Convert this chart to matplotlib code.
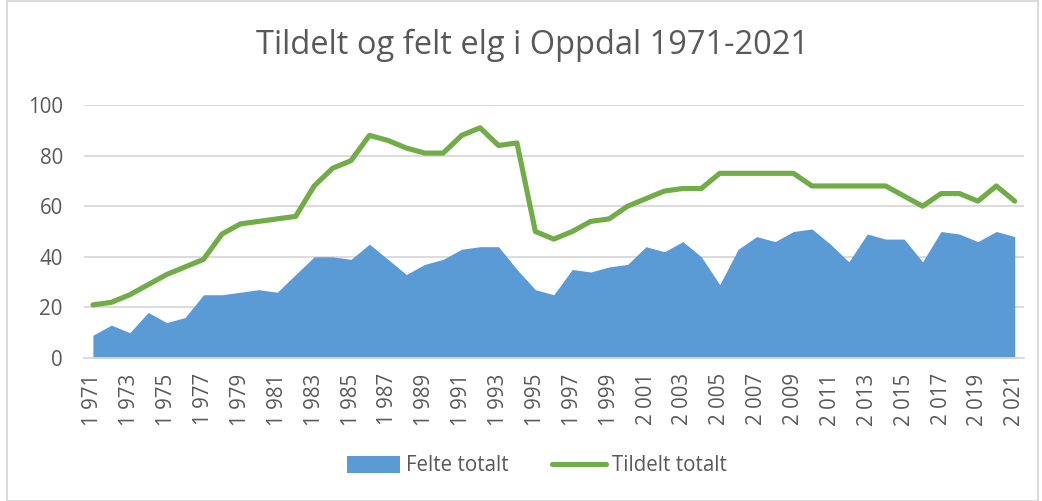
import matplotlib
matplotlib.use("Agg")
import matplotlib.pyplot as plt
from matplotlib.patches import Patch, Rectangle
from matplotlib.lines import Line2D

years = list(range(1971, 2022))
felte = [9, 13, 10, 18, 14, 16, 25, 25, 26, 27, 26, 33, 40, 40, 39, 45,
         39, 33, 37, 39, 43, 44, 44, 35, 27, 25, 35, 34, 36, 37, 44, 42,
         46, 40, 29, 43, 48, 46, 50, 51, 45, 38, 49, 47, 47, 38, 50, 49,
         46, 50, 48]
tildelt = [21, 22, 25, 29, 33, 36, 39, 49, 53, 54, 55, 56, 68, 75, 78, 88,
           86, 83, 81, 81, 88, 91, 84, 85, 50, 47, 50, 54, 55, 60, 63, 66,
           67, 67, 73, 73, 73, 73, 73, 68, 68, 68, 68, 68, 64, 60, 65, 65,
           62, 68, 62]
title = "Tildelt og felt elg i Oppdal 1971-2021"
yticks = [0, 20, 40, 60, 80, 100]

def fmt_year(y):
    s = str(y)
    return s[0] + "\u00a0" + s[1:]

TXT = "#595959"
GRID = "#d9d9d9"
BLUE = "#5B9BD5"
GREEN = "#70AD47"
FONT = ["Open Sans", "DejaVu Sans"]
FS = 14.8

fig = plt.figure(figsize=(10.42, 5.01), dpi=100)
ax = fig.add_axes([0.0803, 0.2854, 0.9024, 0.5050])

x = list(range(len(years)))
ax.fill_between(x, felte, 0, color=BLUE, linewidth=0, zorder=2)
ax.plot(x, tildelt, color=GREEN, linewidth=3.7, solid_joinstyle="round",
        solid_capstyle="round", zorder=3)

ax.set_xlim(-0.5, len(years) - 0.5)
ax.set_ylim(0, 100)
ax.set_yticks(yticks)
ax.set_yticklabels([str(v) for v in yticks], fontsize=FS, color=TXT, family=FONT)
ax.yaxis.grid(True, color=GRID, linewidth=1.3, zorder=0)
ax.set_axisbelow(True)
ax.tick_params(axis="y", length=0, pad=15)
ax.set_xticks(x[::2])
ax.set_xticklabels([fmt_year(y) for y in years[::2]], rotation=90,
                   fontsize=FS, color=TXT, family=FONT)
ax.tick_params(axis="x", length=0, pad=11)
for s in ["left", "right", "top"]:
    ax.spines[s].set_visible(False)
ax.spines["bottom"].set_color(GRID)
ax.spines["bottom"].set_linewidth(1.3)

fig.text(0.511, 0.91, title, ha="center", va="center", fontsize=23.5,
         color=TXT, family=FONT)

handles = [Patch(facecolor=BLUE, edgecolor="none"),
           Line2D([0], [0], color=GREEN, linewidth=3.7, solid_capstyle="round")]
leg = fig.legend(handles, ["Felte totalt", "Tildelt totalt"], loc="center",
                 bbox_to_anchor=(0.515, 0.07), ncol=2, frameon=False,
                 prop={"family": FONT, "size": FS}, handlelength=2.6,
                 handleheight=0.85, handletextpad=0.3, columnspacing=2.1)
for t in leg.get_texts():
    t.set_color(TXT)

fig.patches.append(Rectangle((0.0065, 0.0), 0.99, 0.999, transform=fig.transFigure,
                             fill=False, edgecolor=GRID, linewidth=1.3))

fig.savefig("out.png", dpi=100)
